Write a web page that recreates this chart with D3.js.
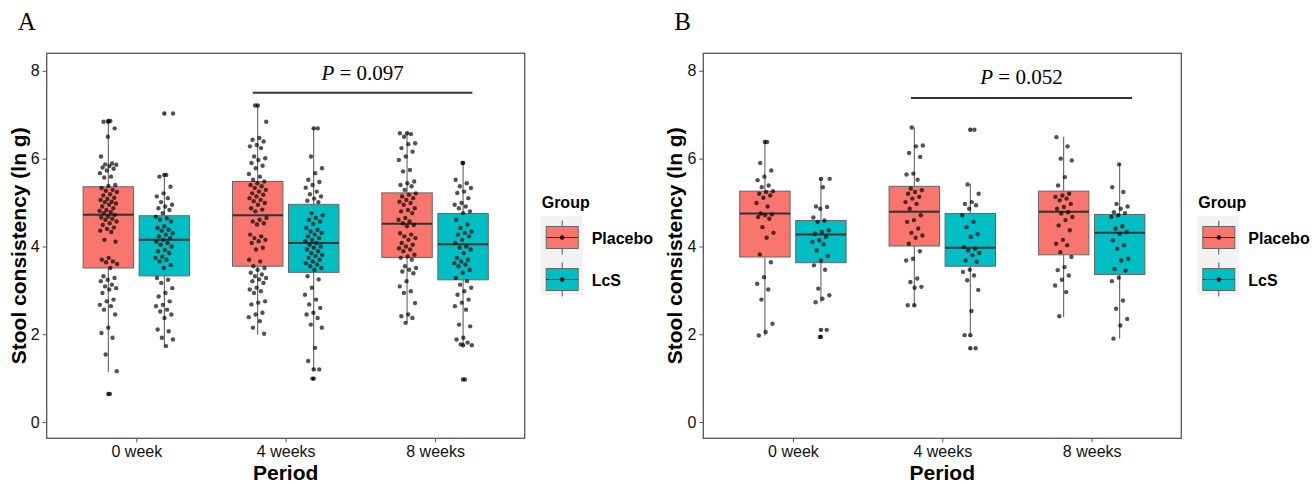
<!DOCTYPE html>
<html>
<head>
<meta charset="utf-8">
<script src="https://cdn.jsdelivr.net/npm/d3@7"></script>
<style>
  body { margin: 0; background: #fff; }
  text { font-family: "Liberation Sans", Arial, sans-serif; }
  text.serif { font-family: "Liberation Serif", "Times New Roman", serif; }
</style>
</head>
<body>
<svg id="canvas" width="1315" height="484"></svg>
<script>
const periods = ["0 week", "4 weeks", "8 weeks"];
const groups = ["Placebo", "LcS"];
const colors = ["#F8766D", "#00BFC4"];
const yTicks = [0, 2, 4, 6, 8];

// box stats: [lower whisker, q1, median, q3, upper whisker], order = period x group
const boxA = [
  [1.14, 3.51, 4.72, 5.36, 6.83], [1.70, 3.33, 4.15, 4.70, 5.60],
  [1.99, 3.55, 4.71, 5.48, 7.20], [1.21, 3.41, 4.08, 4.96, 6.67],
  [2.26, 3.75, 4.52, 5.22, 6.56], [1.77, 3.24, 4.05, 4.75, 5.88]
];
const boxB = [
  [1.97, 3.76, 4.75, 5.26, 6.37], [2.73, 3.63, 4.27, 4.59, 5.53],
  [2.67, 4.01, 4.79, 5.37, 6.71], [2.01, 3.55, 3.97, 4.75, 5.43],
  [2.39, 3.81, 4.79, 5.26, 6.50], [1.90, 3.36, 4.31, 4.73, 5.88]
];

// raw points, panel A
const a0Placebo = [6.86,6.84,6.69,6.50,6.05,5.89,5.87,5.86,5.83,5.80,5.77,5.73,5.67,5.59,5.57,5.40,5.38,5.33,5.29,5.27,5.24,5.19,5.16,5.11,5.08,5.06,5.02,5.01,4.98,4.95,4.91,4.87,4.83,4.81,4.78,4.76,4.72,4.68,4.66,4.63,4.61,4.57,4.53,4.49,4.43,4.40,4.36,4.33,4.15,4.11,3.74,3.70,3.66,3.64,3.60,3.51,3.32,3.28,3.24,3.21,3.13,3.09,3.05,3.02,2.94,2.79,2.75,2.67,2.64,2.56,2.45,2.15,2.03,1.92,1.54,1.16,0.64];
const a0LcS = [7.03,5.63,5.59,5.36,5.21,5.14,5.10,5.01,4.95,4.91,4.87,4.83,4.76,4.68,4.64,4.61,4.57,4.46,4.42,4.38,4.36,4.30,4.27,4.23,4.19,4.15,4.11,4.08,4.04,4.00,3.92,3.89,3.85,3.77,3.74,3.70,3.66,3.58,3.51,3.28,3.24,3.17,3.05,2.94,2.86,2.75,2.67,2.64,2.56,2.52,2.45,2.37,2.11,2.07,1.92,1.88,1.73];
const a4Placebo = [7.21,6.84,6.47,6.43,6.39,6.31,6.28,6.24,6.05,6.01,5.97,5.90,5.84,5.78,5.65,5.59,5.52,5.48,5.44,5.40,5.37,5.33,5.29,5.25,5.21,5.18,5.14,5.10,5.06,5.03,4.99,4.95,4.87,4.84,4.80,4.65,4.61,4.57,4.53,4.50,4.27,4.23,4.19,4.15,4.12,4.08,3.97,3.93,3.70,3.66,3.55,3.51,3.47,3.40,3.36,3.32,3.28,3.25,3.21,3.17,3.06,3.02,2.98,2.94,2.75,2.72,2.68,2.49,2.45,2.39,2.30,2.15,2.01];
const a4LcS = [6.69,6.05,5.78,5.67,5.52,5.47,5.40,5.34,5.25,5.19,5.14,5.09,5.04,5.01,4.76,4.71,4.65,4.61,4.57,4.51,4.42,4.38,4.34,4.31,4.27,4.23,4.19,4.15,4.12,4.08,4.04,4.00,3.97,3.93,3.89,3.85,3.81,3.78,3.74,3.70,3.66,3.62,3.59,3.55,3.51,3.47,3.32,3.25,3.06,2.90,2.79,2.68,2.60,2.49,2.45,2.37,2.22,2.15,1.69,1.39,1.20,0.99];
const a8Placebo = [6.58,6.56,6.50,6.35,6.33,6.24,6.16,6.05,5.97,5.74,5.71,5.48,5.44,5.40,5.37,5.29,5.21,5.18,5.14,5.10,5.06,5.02,4.99,4.95,4.87,4.83,4.80,4.76,4.65,4.61,4.57,4.53,4.49,4.46,4.30,4.27,4.23,4.19,4.15,4.08,4.04,4.00,3.96,3.93,3.89,3.81,3.77,3.74,3.70,3.55,3.51,3.47,3.43,3.39,3.21,3.09,2.98,2.94,2.71,2.45,2.41,2.37,2.26];
const a8LcS = [5.90,5.52,5.44,5.37,5.33,5.25,5.22,5.10,4.99,4.95,4.91,4.87,4.80,4.76,4.61,4.50,4.42,4.34,4.31,4.27,4.23,4.15,4.08,4.00,3.97,3.93,3.85,3.74,3.70,3.66,3.62,3.59,3.55,3.47,3.40,3.28,3.21,3.13,3.06,2.98,2.90,2.79,2.72,2.64,2.56,2.22,2.18,1.92,1.88,1.81,1.77,1.75,0.97];

// raw points, panel B
const b0Placebo = [6.38,5.90,5.73,5.59,5.51,5.39,5.35,5.26,5.24,5.20,5.16,5.11,4.99,4.91,4.75,4.73,4.71,4.67,4.63,4.44,4.31,4.20,3.82,3.64,3.30,3.15,3.02,2.79,2.24,2.05,1.97];
const b0LcS = [5.54,5.35,4.91,4.90,4.86,4.66,4.59,4.56,4.37,4.33,4.29,4.22,4.14,4.10,4.05,3.91,3.78,3.68,3.57,3.47,3.04,2.89,2.81,2.73,2.10,1.94];
const b4Placebo = [6.71,6.30,6.28,6.13,6.04,5.66,5.64,5.52,5.32,5.28,5.24,5.20,5.13,5.09,5.01,4.97,4.86,4.71,4.60,4.56,4.41,4.31,4.25,4.20,4.06,3.89,3.72,3.68,3.27,3.19,3.08,3.06,2.66];
const b4LcS = [6.66,5.41,5.20,5.01,4.97,4.94,4.86,4.71,4.56,4.44,4.28,4.22,3.99,3.95,3.91,3.85,3.80,3.68,3.65,3.47,3.42,3.34,3.23,3.01,2.53,1.98,1.68];
const b8Placebo = [6.49,6.28,6.00,5.96,5.58,5.39,5.20,5.16,5.13,5.09,5.05,4.97,4.90,4.86,4.78,4.75,4.67,4.60,4.48,4.37,4.15,4.06,4.03,3.87,3.76,3.53,3.46,3.34,3.24,3.11,2.96,2.41];
const b8LcS = [5.87,5.35,5.24,4.97,4.91,4.86,4.78,4.76,4.71,4.67,4.46,4.41,4.33,4.29,4.14,4.03,3.95,3.72,3.68,3.49,3.45,3.29,3.21,2.77,2.58,2.35,2.20,1.90];

const pointsA = [a0Placebo, a0LcS, a4Placebo, a4LcS, a8Placebo, a8LcS];
const pointsB = [b0Placebo, b0LcS, b4Placebo, b4LcS, b8Placebo, b8LcS];

const panelLabels = ["A", "B"];
const pValues = ["0.097", "0.052"];

const canvas = d3.select("#canvas");

const plotW = 478, plotTop = 53.3, plotBottom = 438.3;

let drawPanel = (ox, label, boxes, points, pText, lineY, textY, lineFrom, lineTo) => {
  const left = ox, right = ox + plotW;
  const g = canvas.append("g");

  const x = d3.scalePoint().domain(periods).range([left, right]).padding(0.6);
  const step = x.step();
  const dodge = d3.scaleBand().domain(groups).range([-0.375 * step, 0.375 * step]);
  const boxW = dodge.bandwidth() * 0.9;
  const y = d3.scaleLinear().domain([-0.37, 8.4]).range([plotBottom, plotTop]);

  const cx = i => x(periods[Math.floor(i / 2)]) + dodge(groups[i % 2]) + dodge.bandwidth() / 2;

  // whiskers
  g.selectAll(".whisker").data(boxes).enter().append("line")
    .attr("x1", (d, i) => cx(i)).attr("x2", (d, i) => cx(i))
    .attr("y1", d => y(d[0])).attr("y2", d => y(d[4]))
    .attr("stroke", "#555").attr("stroke-width", 1);

  // boxes
  g.selectAll(".box").data(boxes).enter().append("rect")
    .attr("x", (d, i) => cx(i) - boxW / 2)
    .attr("width", boxW)
    .attr("y", d => y(d[3]))
    .attr("height", d => y(d[1]) - y(d[3]))
    .attr("fill", (d, i) => colors[i % 2])
    .attr("stroke", "#666").attr("stroke-width", 1);

  g.selectAll(".median").data(boxes).enter().append("line")
    .attr("x1", (d, i) => cx(i) - boxW / 2).attr("x2", (d, i) => cx(i) + boxW / 2)
    .attr("y1", d => y(d[2])).attr("y2", d => y(d[2]))
    .attr("stroke", "#333").attr("stroke-width", 2);

  // outliers (drawn at centre, like geom_boxplot)
  points.forEach((vals, i) => {
    const b = boxes[i];
    g.selectAll(null).data(vals.filter(v => v < b[0] || v > b[4])).enter().append("circle")
      .attr("cx", cx(i)).attr("cy", v => y(v)).attr("r", 2.2)
      .attr("fill", "#000").attr("fill-opacity", 0.75);
  });

  // jittered points
  const jit = d3.scaleLinear().domain([0, 1]).range([-0.06 * step, 0.06 * step]);
  points.forEach((vals, i) => {
    g.selectAll(null).data(vals).enter().append("circle")
      .attr("cx", (v, k) => cx(i) + jit(((k + 1) * 0.6180339 + i * 0.37) % 1))
      .attr("cy", v => y(v)).attr("r", 2.2)
      .attr("fill", "#000").attr("fill-opacity", 0.68);
  });

  // panel border
  g.append("rect").attr("x", left).attr("y", plotTop).attr("width", right - left).attr("height", plotBottom - plotTop)
    .attr("fill", "none").attr("stroke", "#555").attr("stroke-width", 1.3);

  // axes
  const yAxis = g.append("g").attr("transform", `translate(${left},0)`)
    .call(d3.axisLeft(y).tickValues(yTicks).tickSize(4).tickPadding(3));
  const xAxis = g.append("g").attr("transform", `translate(0,${plotBottom})`)
    .call(d3.axisBottom(x).tickSize(4).tickPadding(3));
  [yAxis, xAxis].forEach(a => {
    a.select(".domain").remove();
    a.selectAll("line").attr("stroke", "#555");
    a.selectAll("text").attr("font-size", 16).attr("fill", "#111");
  });

  // axis titles
  g.append("text").attr("x", (left + right) / 2).attr("y", 480)
    .attr("text-anchor", "middle").attr("font-size", 21).attr("font-weight", "bold").text("Period");
  g.append("text").attr("transform", `translate(${left - 21},${(plotTop + plotBottom) / 2}) rotate(-90)`)
    .attr("text-anchor", "middle").attr("font-size", 21).attr("font-weight", "bold")
    .text("Stool consistency (ln g)");

  // panel letter
  g.append("text").attr("class", "serif").attr("x", left - 29).attr("y", 30)
    .attr("font-size", 25).text(label);

  // significance line and P text
  const lx1 = x(lineFrom[0]) + lineFrom[1] * step, lx2 = x(lineTo[0]) + lineTo[1] * step;
  g.append("line").attr("x1", lx1).attr("x2", lx2).attr("y1", y(lineY)).attr("y2", y(lineY))
    .attr("stroke", "#333").attr("stroke-width", 2);
  const pt = g.append("text").attr("class", "serif").attr("x", (lx1 + lx2) / 2).attr("y", y(textY))
    .attr("text-anchor", "middle").attr("font-size", 21);
  pt.append("tspan").attr("font-style", "italic").text("P");
  pt.append("tspan").text(" = " + pText);

  // legend
  const lg = g.append("g").attr("transform", `translate(${right + 16},0)`);
  lg.append("text").attr("x", 1).attr("y", 207.5).attr("font-size", 16).attr("font-weight", "bold").text("Group");
  lg.append("rect").attr("x", 0).attr("y", 216).attr("width", 42).attr("height", 79).attr("fill", "#f2f2f2");
  groups.forEach((grp, i) => {
    const cyk = 237.5 + i * 42;
    lg.append("line").attr("x1", 21.5).attr("x2", 21.5).attr("y1", cyk - 17).attr("y2", cyk + 17)
      .attr("stroke", "#555").attr("stroke-width", 1);
    lg.append("rect").attr("x", 5.5).attr("y", cyk - 11).attr("width", 32).attr("height", 22)
      .attr("fill", colors[i]).attr("stroke", "#666").attr("stroke-width", 1);
    lg.append("line").attr("x1", 5.5).attr("x2", 37.5).attr("y1", cyk).attr("y2", cyk)
      .attr("stroke", "#333").attr("stroke-width", 1);
    lg.append("circle").attr("cx", 21.5).attr("cy", cyk).attr("r", 2.2).attr("fill", "#000");
    lg.append("text").attr("x", 51).attr("y", cyk + 6).attr("font-size", 16).attr("font-weight", "bold").text(grp);
  });
};

drawPanel(46.7, panelLabels[0], boxA, pointsA, pValues[0], 7.50, 7.80, ["4 weeks", -0.22], ["8 weeks", 0.25]);
drawPanel(703.3, panelLabels[1], boxB, pointsB, pValues[1], 7.38, 7.70, ["4 weeks", -0.21], ["8 weeks", 0.27]);
</script>
</body>
</html>
